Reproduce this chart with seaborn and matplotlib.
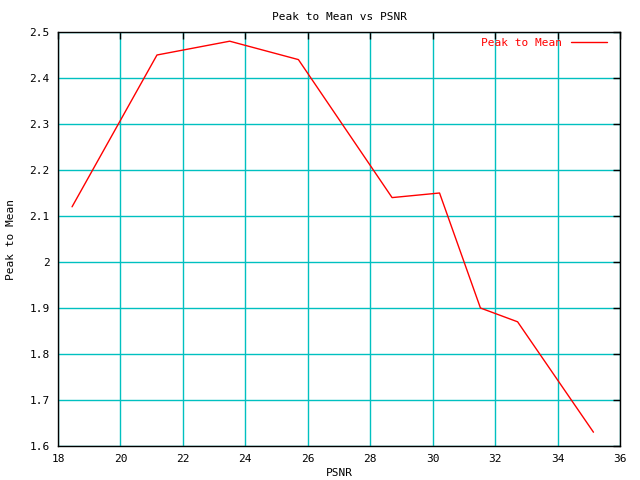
import matplotlib
matplotlib.use('Agg')
import matplotlib.pyplot as plt
import seaborn as sns
import pandas as pd
from matplotlib.ticker import FuncFormatter, MultipleLocator

# ---------- data ----------
psnr = [18.45, 21.17, 23.5, 25.7, 28.7, 30.22, 31.53, 32.72, 35.15]
peak_to_mean = [2.12, 2.45, 2.48, 2.44, 2.14, 2.15, 1.90, 1.87, 1.63]

df = pd.DataFrame({'PSNR': psnr, 'Peak to Mean': peak_to_mean})

sns.set_style('white')
plt.rcParams['font.family'] = ['DejaVu Sans Mono']
plt.rcParams['text.color'] = 'black'
plt.rcParams['axes.labelcolor'] = 'black'
plt.rcParams['xtick.color'] = 'black'
plt.rcParams['ytick.color'] = 'black'

fig = plt.figure(figsize=(6.4, 4.8), dpi=100)
ax = fig.add_axes([58 / 640, 1 - 446 / 480, 562 / 640, 414 / 480])

grid_c = '#00c0c0'
sns.lineplot(data=df, x='PSNR', y='Peak to Mean', sort=False, color='red',
             linewidth=1.0, ax=ax, label='Peak to Mean')

ax.set_xlim(18, 36)
ax.set_ylim(1.6, 2.5)
ax.xaxis.set_major_locator(MultipleLocator(2))
ax.yaxis.set_major_locator(MultipleLocator(0.1))
ax.yaxis.set_major_formatter(FuncFormatter(lambda v, p: f'{v:g}'))
ax.grid(True, color=grid_c, linewidth=1.0)
ax.set_axisbelow(True)
ax.tick_params(direction='in', length=5, width=1, color='black',
               top=True, right=True, labelsize=8, pad=6)
for s in ax.spines.values():
    s.set_color('black')
    s.set_linewidth(1.0)

ax.set_xlabel('PSNR', fontsize=8, labelpad=3)
ax.set_ylabel('Peak to Mean', fontsize=8, labelpad=10)
ax.set_title('Peak to Mean vs PSNR', fontsize=8, pad=9)

leg = ax.legend(loc='upper right', bbox_to_anchor=(0.986, 1.0), frameon=False,
                fontsize=8, markerfirst=False, handlelength=3.2,
                borderaxespad=0.2, borderpad=0.3)
for t in leg.get_texts():
    t.set_color('red')

fig.savefig('out.png', dpi=100)
